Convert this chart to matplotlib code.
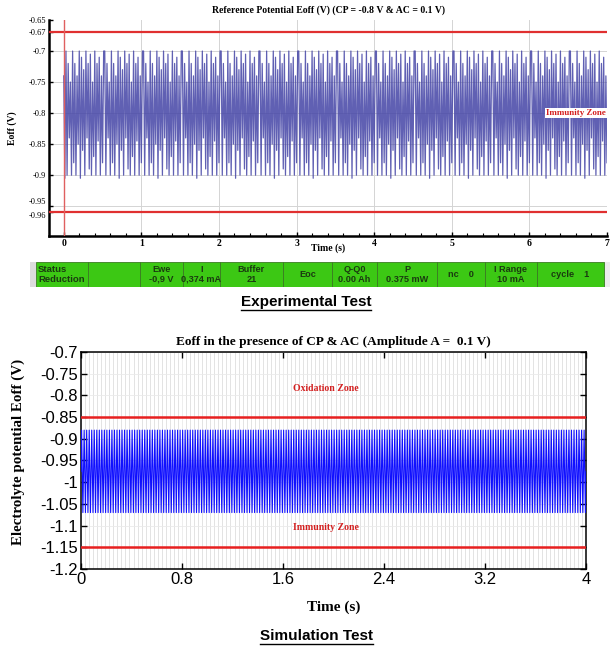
import numpy as np
import matplotlib
matplotlib.use("Agg")
import matplotlib.pyplot as plt
from matplotlib.ticker import MultipleLocator, FixedLocator
from matplotlib.patches import Rectangle
from matplotlib.lines import Line2D

# ---------------- data ----------------
# Experimental test (top)
exp_title = "Reference Potential Eoff (V) (CP = -0.8 V & AC = 0.1 V)"
exp_yticks = [-0.65, -0.67, -0.7, -0.75, -0.8, -0.85, -0.9, -0.95, -0.96]
exp_yticklabels = ["-0.65", "-0.67", "-0.7", "-0.75", "-0.8", "-0.85", "-0.9", "-0.95", "-0.96"]
exp_xticks = [0, 1, 2, 3, 4, 5, 6, 7]
exp_limits = [-0.67, -0.96]          # red limit lines
exp_start = [-0.74, -0.905]          # first samples
exp_pattern = [-0.70, -0.90, -0.72, -0.84, -0.75, -0.90, -0.70, -0.88, -0.72, -0.90,
               -0.74, -0.85, -0.70, -0.905, -0.71, -0.86, -0.73, -0.90, -0.70, -0.84,
               -0.72, -0.89, -0.705, -0.90, -0.75, -0.87, -0.70, -0.90, -0.72, -0.845,
               -0.71, -0.90, -0.74, -0.88, -0.70]
exp_rate = 70.0                      # samples per second
exp_duration = 7.0

# Status bar cells
status_cells = ["Status\nReduction", "", "Ewe\n-0,9 V", "I\n0,374 mA", "Buffer\n21", "Eoc",
                "Q-Q0\n0.00 Ah", "P\n0.375 mW", "nc    0", "I Range\n10 mA", "cycle    1"]

# Simulation test (bottom)
sim_title = "Eoff in the presence of CP & AC (Amplitude A =  0.1 V)"
sim_yticks = [-0.7, -0.75, -0.8, -0.85, -0.9, -0.95, -1.0, -1.05, -1.1, -1.15, -1.2]
sim_yticklabels = ["-0.7", "-0.75", "-0.8", "-0.85", "-0.9", "-0.95", "-1", "-1.05", "-1.1", "-1.15", "-1.2"]
sim_xticks = [0, 0.8, 1.6, 2.4, 3.2, 4.0]
sim_xticklabels = ["0", "0.8", "1.6", "2.4", "3.2", "4"]
sim_limits = [-0.85, -1.15]
sim_cycle = [-0.975, -0.88, -0.975, -1.07]   # one AC period: mean, top, mean, bottom
sim_freq = 50.0
sim_duration = 4.0

# ---------------- figure ----------------
W, H = 611, 652
fig = plt.figure(figsize=(W / 100, H / 100), dpi=100)
fig.patch.set_facecolor("white")

def fbox(x0, y0, x1, y1):
    return [x0 / W, 1 - y1 / H, (x1 - x0) / W, (y1 - y0) / H]

serif = "Liberation Serif"
sans = "Liberation Sans"

# ---------- top chart ----------
ax1 = fig.add_axes(fbox(49, 20, 607, 236))
n_exp = int(exp_rate * exp_duration)
vals = list(exp_start) + [exp_pattern[i % len(exp_pattern)] for i in range(n_exp - len(exp_start) + 1)]
t_exp = np.arange(len(vals)) / exp_rate
ax1.plot(t_exp, vals, color="#4444a6", lw=0.9, alpha=0.85, zorder=3)
for v in exp_limits:
    ax1.axhline(v, color="#e03030", lw=1.6, zorder=4)
ax1.axvline(0, color="#e06060", lw=1.0, zorder=4)
ax1.set_xlim(-0.19, 7.0)
ax1.set_ylim(-0.998, -0.65)
ax1.yaxis.set_major_locator(FixedLocator(exp_yticks))
ylabs = ax1.set_yticklabels(exp_yticklabels, fontfamily=serif, fontsize=6.0)
ylabs[7].set_va("bottom")
ylabs[8].set_va("top")
ax1.set_xticks(exp_xticks)
ax1.set_xticklabels([str(x) for x in exp_xticks], fontfamily=serif, fontsize=7, fontweight="bold")
ax1.xaxis.set_minor_locator(MultipleLocator(0.2))
ax1.tick_params(axis="both", which="major", direction="in", length=3, width=1, pad=2)
ax1.tick_params(axis="x", which="minor", direction="in", length=2, width=0.8)
for s in ["top", "right"]:
    ax1.spines[s].set_visible(False)
for s in ["left", "bottom"]:
    ax1.spines[s].set_linewidth(1.8)
for v in [-0.7, -0.75, -0.8, -0.85, -0.9, -0.95]:
    ax1.axhline(v, color="#d4d4d4", lw=0.7, zorder=1)
for x in exp_xticks[1:]:
    ax1.axvline(x, color="#d4d4d4", lw=0.7, zorder=1)
ax1.set_title(exp_title, fontfamily=serif, fontsize=7, fontweight="bold", pad=5)
ax1.set_xlabel("Time (s)", fontfamily=serif, fontsize=7, fontweight="bold", labelpad=-3)
ax1.set_ylabel("Eoff (V)", fontfamily=serif, fontsize=7, fontweight="bold", labelpad=8)
ax1.text(6.99, -0.80, "Immunity Zone", ha="right", va="center", color="#d42020",
         fontfamily=serif, fontsize=6.5, fontweight="bold", zorder=5,
         bbox=dict(facecolor="white", edgecolor="none", pad=1.0))

# ---------- status bar ----------
axs = fig.add_axes(fbox(30, 262, 610, 287))
axs.set_xlim(30, 610)
axs.set_ylim(287, 262)
axs.axis("off")
edges = [36, 88, 140, 183, 220, 283, 332, 377, 437, 485, 537, 604]
axs.add_patch(Rectangle((30, 262), 6, 25, facecolor="#dcdcdc", edgecolor="none"))
axs.add_patch(Rectangle((604, 262), 6, 25, facecolor="#ececec", edgecolor="none"))
for i, lab in enumerate(status_cells):
    x0, x1 = edges[i], edges[i + 1]
    axs.add_patch(Rectangle((x0, 262), x1 - x0, 25, facecolor="#3cc814",
                            edgecolor="#3a7a22", lw=0.6))
    if i == 0:
        axs.text(x0 + 2, 274.5, lab, ha="left", va="center", fontfamily=sans,
                 fontsize=6.8, fontweight="bold", color="#1a3a10", linespacing=1.0)
    else:
        axs.text((x0 + x1) / 2, 274.5, lab, ha="center", va="center", fontfamily=sans,
                 fontsize=6.6, fontweight="bold", color="#1a3a10", linespacing=1.0)

# ---------- bottom chart ----------
ax2 = fig.add_axes(fbox(81, 352, 586, 569))
n_sim = int(sim_freq * sim_duration * len(sim_cycle))
sim_vals = [sim_cycle[i % len(sim_cycle)] for i in range(n_sim + 1)]
t_sim = np.arange(len(sim_vals)) / (sim_freq * len(sim_cycle))
ax2.plot(t_sim, sim_vals, color="#1010ff", lw=0.8, zorder=3)
for v in sim_limits:
    ax2.axhline(v, color="#e82020", lw=1.8, zorder=4)
ax2.set_xlim(0, 4)
ax2.set_ylim(-1.2, -0.7)
ax2.set_yticks(sim_yticks)
ax2.set_yticklabels(sim_yticklabels, fontfamily=sans, fontsize=12)
ax2.set_xticks(sim_xticks)
ax2.set_xticklabels(sim_xticklabels, fontfamily=sans, fontsize=12)
ax2.xaxis.set_minor_locator(MultipleLocator(0.032))
ax2.tick_params(axis="both", which="major", direction="in", length=4, width=1,
                top=True, right=True, pad=2)
ax2.tick_params(axis="x", which="minor", length=0)
ax2.grid(which="minor", axis="x", color="#dedede", lw=0.6, zorder=0)
ax2.grid(which="major", axis="both", color="#eaeaea", lw=0.6, zorder=0)
for s in ax2.spines.values():
    s.set_linewidth(1.1)
ax2.set_title(sim_title, fontfamily=serif, fontsize=9.5, fontweight="bold", pad=5)
ax2.set_xlabel("Time (s)", fontfamily=serif, fontsize=11, fontweight="bold", labelpad=10)
ax2.set_ylabel("Electrolyte potential Eoff (V)", fontfamily=serif, fontsize=10.8,
               fontweight="bold")
ax2.yaxis.set_label_coords(-0.11, 0.54)
ax2.text(1.94, -0.785, "Oxidation Zone", ha="center", va="center", color="#d42020",
         fontfamily=serif, fontsize=7, fontweight="bold", zorder=5)
ax2.text(1.94, -1.105, "Immunity Zone", ha="center", va="center", color="#d42020",
         fontfamily=serif, fontsize=7, fontweight="bold", zorder=5)

# ---------- captions ----------
def underlined(x, y, s, size):
    t = fig.text(x / W, 1 - y / H, s, ha="center", va="center", fontfamily=sans,
                 fontsize=size, fontweight="bold")
    fig.canvas.draw()
    bb = t.get_window_extent().transformed(fig.transFigure.inverted())
    yl = bb.y0 - 1.0 / H
    fig.add_artist(Line2D([bb.x0, bb.x1], [yl, yl], transform=fig.transFigure,
                          color="black", lw=1.0))

underlined(306, 302, "Experimental Test", 11)
underlined(316, 636, "Simulation Test", 11)

fig.savefig("out.png", dpi=100)
